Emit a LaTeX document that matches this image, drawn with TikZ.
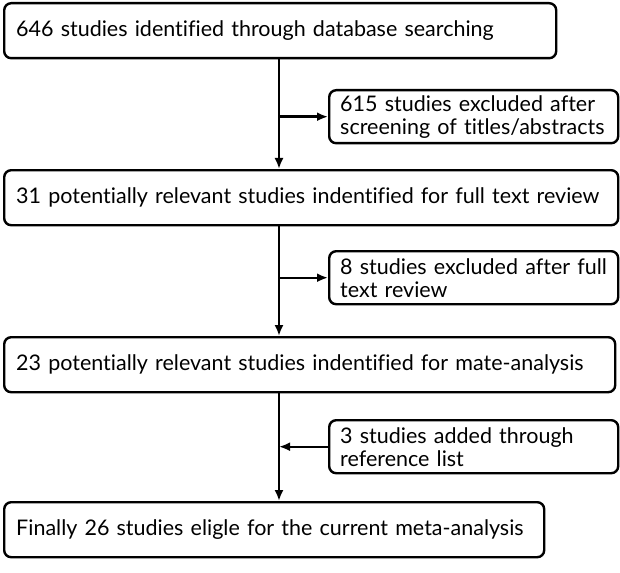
\documentclass[tikz,border=0pt]{standalone}
\usepackage{fontspec}
\setmainfont{Lato}[Ligatures={NoCommon}]
\usetikzlibrary{arrows.meta}
\tikzset{>={Latex[length=11pt,width=9pt]}}
\tikzset{mainbox/.style = {draw, line width=2.4pt, rounded corners=7pt, anchor=north west, minimum height=55pt, inner xsep=12pt, inner ysep=0pt, align=left, font=\fontsize{21.5}{23}\selectfont}}
\tikzset{sidebox/.style = {draw, line width=2.4pt, rounded corners=7pt, anchor=north west, minimum height=53pt, inner xsep=11pt, inner ysep=0pt, text width=267pt, align=left, font=\fontsize{21.5}{23}\selectfont}}
\tikzset{flow/.style = {->, line width=2.4pt}}

\begin{document}
\begin{tikzpicture}[x=1pt,y=-1pt]
                    \useasboundingbox (0,0) rectangle (620,572);

                    \node[mainbox, text width=528pt] (B1) at (3,2) {646 studies identified through database searching};
                    \node[sidebox] (S1) at (328,89) {615 studies excluded after\\screening of titles/abstracts};
                    \node[mainbox, text width=590pt] (B2) at (3,169) {31 potentially relevant studies indentified for full text review};
                    \node[sidebox] (S2) at (328,250) {8 studies excluded after full\\text review};
                    \node[mainbox, text width=587pt] (B3) at (3,336) {23 potentially relevant studies indentified for mate-analysis};
                    \node[sidebox] (S3) at (328,419) {3 studies added through\\reference list};
                    \node[mainbox, text width=516pt] (B4) at (3,501) {Finally 26 studies eligle for the current meta-analysis};

                    \coordinate (spine) at (279,0);

                    \draw[flow] (B1.south -| spine) -- (B2.north -| spine);
                    \draw[flow] (S1.west -| spine) -- (S1.west);
                    \draw[flow] (B2.south -| spine) -- (B3.north -| spine);
                    \draw[flow] (S2.west -| spine) -- (S2.west);
                    \draw[flow] (B3.south -| spine) -- (B4.north -| spine);
                    \draw[flow] (S3.west) -- (S3.west -| spine);
                \end{tikzpicture}
\end{document}
